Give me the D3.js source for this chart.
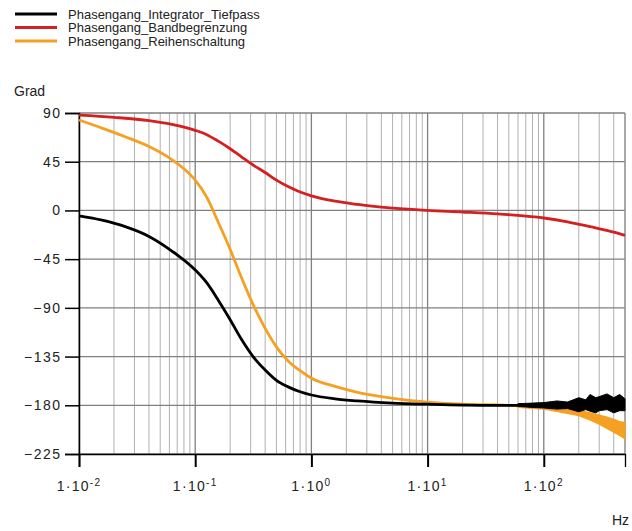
<!DOCTYPE html>
<html>
<head>
<meta charset="utf-8">
<script src="https://cdn.jsdelivr.net/npm/d3@7"></script>
<style>
body{margin:0;background:#fff;}
text{font-family:"Liberation Sans",Arial,sans-serif;fill:#222;}
</style>
</head>
<body>
<div id="chart"></div>
<script>
// series (frequency in Hz, phase in degrees)
var freqBlack=[0.01,0.0158,0.025,0.04,0.063,0.1,0.126,0.158,0.2,0.25,0.315,0.4,0.5,0.63,0.8,1,1.6,2.5,5,10,31.5,100,500];
var phaseBlack=[-5,-9,-15,-24,-37.5,-55,-67,-83,-101,-119,-135,-147.5,-157,-163,-167.5,-170.5,-174,-176,-178,-179,-180,-180,-179];

var freqRed=[0.01,0.02,0.04,0.063,0.1,0.126,0.158,0.2,0.25,0.315,0.4,0.5,0.63,0.8,1,1.6,2.5,4,10,20,40,63,100,160,250,400,500];
var phaseRed=[88,86,83,79.5,74,70,64,57,49.5,42,35,28,22,17,13.5,8.5,5.5,3,0,-1.5,-3.2,-4.8,-7,-10.5,-15,-20,-23];

var freqOrange=[0.01,0.0158,0.025,0.04,0.063,0.08,0.1,0.126,0.158,0.2,0.25,0.315,0.4,0.5,0.63,0.8,1,1.6,2.5,4,6.3,10,20,50,100,200,315,500];
var phaseOrange=[83.5,76,68,59,47,38.5,28,12,-11,-36,-62,-87,-109,-126,-139,-148,-155,-162.5,-168,-172,-175,-177,-179,-180,-182,-187,-194,-203];

// noisy tails (upper / lower envelope)
var freqBlackNoise=[60,80,100,130,160,200,230,250,280,300,350,400,450,500];
var blackNoiseHi=[-178.5,-178,-177.5,-176,-177,-173,-175,-170,-173,-172,-169.5,-173,-170,-174];
var blackNoiseLo=[-181,-182,-182.5,-183.5,-183,-186,-184,-185.5,-187,-185,-184,-187,-185,-185];
var freqOrangeNoise=[60,100,160,200,250,300,350,400,450,500];
var orangeNoiseHi=[-179,-180.5,-183,-184.5,-187,-189,-191,-193,-195,-196];
var orangeNoiseLo=[-182,-183.5,-187.5,-189.5,-193.5,-197.5,-201.5,-205,-208,-211];

var legendNames=["Phasengang_Integrator_Tiefpass","Phasengang_Bandbegrenzung","Phasengang_Reihenschaltung"];
var colors=["#000000","#d42020","#f5a023"];
var yTicks=[90,45,0,-45,-90,-135,-180,-225];
var xTicks=[0.01,0.1,1,10,100];
var xExp=["-2","-1","0","1","2"];

var W=632,H=531;
var margin={top:113,left:79,right:7,bottom:77};

var svg=d3.select("#chart").append("svg").attr("width",W).attr("height",H);

var x=d3.scaleLog().domain([0.01,500]).range([margin.left,W-margin.right]);
var y=d3.scaleLinear().domain([-225,90]).range([H-margin.bottom,margin.top]);

// minor vertical grid
var minor=[];
[0.01,0.1,1,10,100].forEach(function(d){
    for(var k=2;k<=9;k++){ if(d*k<=500) minor.push(d*k); }
});
svg.append("g").selectAll("line").data(minor).enter().append("line")
  .attr("x1",function(d){return x(d)}).attr("x2",function(d){return x(d)})
  .attr("y1",y(90)).attr("y2",y(-225))
  .attr("stroke","#b0b0b0").attr("stroke-width",1);

// major vertical grid
svg.append("g").selectAll("line").data(xTicks).enter().append("line")
  .attr("x1",function(d){return x(d)}).attr("x2",function(d){return x(d)})
  .attr("y1",y(90)).attr("y2",y(-225))
  .attr("stroke","#808080").attr("stroke-width",1.3);

// horizontal grid
svg.append("g").selectAll("line").data(yTicks).enter().append("line")
  .attr("x1",x(0.01)).attr("x2",x(500))
  .attr("y1",function(d){return y(d)}).attr("y2",function(d){return y(d)})
  .attr("stroke","#808080").attr("stroke-width",1.3);

// right border
svg.append("line").attr("x1",x(500)).attr("x2",x(500)).attr("y1",y(90)).attr("y2",y(-225))
  .attr("stroke","#909090").attr("stroke-width",1.3);

// axes
var yAxis=d3.axisLeft(y).tickValues(yTicks).tickSize(14).tickPadding(5);
var gy=svg.append("g").attr("transform","translate("+margin.left+",0)").call(yAxis);
gy.select(".domain").attr("stroke","#000").attr("stroke-width",1.5);
gy.selectAll(".tick line").attr("stroke","#000").attr("stroke-width",1.5);
gy.selectAll("text").style("font-size","14px").style("letter-spacing","1.5px").attr("dx","1.5").attr("fill","#222");

var xAxis=d3.axisBottom(x).tickValues(xTicks).tickSize(13).tickFormat("");
var gx=svg.append("g").attr("transform","translate(0,"+y(-225)+")").call(xAxis);
gx.select(".domain").attr("stroke","#000").attr("stroke-width",1.3);
gx.selectAll(".tick line").attr("stroke","#000").attr("stroke-width",2);

var lab=svg.append("g").selectAll("text").data(xTicks).enter().append("text")
  .attr("x",function(d){return x(d)}).attr("y",y(-225)+37)
  .attr("text-anchor","middle").style("font-size","14px").style("letter-spacing","1.3px");
lab.append("tspan").text("1\u00b710");
lab.append("tspan").attr("dy","-5").style("font-size","10px").text(function(d,i){return xExp[i]});

svg.append("text").attr("x",14).attr("y",96).style("font-size","14px").text("Grad");
svg.append("text").attr("x",612).attr("y",525).style("font-size","14px").text("Hz");

// curves
var line=d3.line().x(function(d){return x(d[0])}).y(function(d){return y(d[1])}).curve(d3.curveMonotoneX);
var band=d3.area().x(function(d){return x(d[0])}).y0(function(d){return y(d[1])}).y1(function(d){return y(d[2])});

function zip(f,v){ return f.map(function(d,i){return [d,v[i]]}); }
function zip3(f,a,b){ return f.map(function(d,i){return [d,a[i],b[i]]}); }

var plot=svg.append("g");
plot.append("path").datum(zip(freqRed,phaseRed)).attr("d",line)
  .attr("fill","none").attr("stroke",colors[1]).attr("stroke-width",2.8);
plot.append("path").datum(zip3(freqOrangeNoise,orangeNoiseHi,orangeNoiseLo)).attr("d",band)
  .attr("fill",colors[2]).attr("stroke",colors[2]).attr("stroke-width",1.2);
plot.append("path").datum(zip(freqOrange,phaseOrange)).attr("d",line)
  .attr("fill","none").attr("stroke",colors[2]).attr("stroke-width",2.8);
plot.append("path").datum(zip3(freqBlackNoise,blackNoiseHi,blackNoiseLo)).attr("d",band)
  .attr("fill",colors[0]).attr("stroke",colors[0]).attr("stroke-width",1);
plot.append("path").datum(zip(freqBlack,phaseBlack)).attr("d",line)
  .attr("fill","none").attr("stroke",colors[0]).attr("stroke-width",2.8);

// legend
var leg=svg.append("g").selectAll("g").data(legendNames).enter().append("g")
  .attr("transform",function(d,i){return "translate(15,"+(14+i*13.5)+")"});
leg.append("line").attr("x1",0).attr("x2",42).attr("stroke",function(d,i){return colors[i]}).attr("stroke-width",3);
leg.append("text").attr("x",53).attr("y",4.5).style("font-size","13px").text(function(d){return d});
</script>
</body>
</html>
